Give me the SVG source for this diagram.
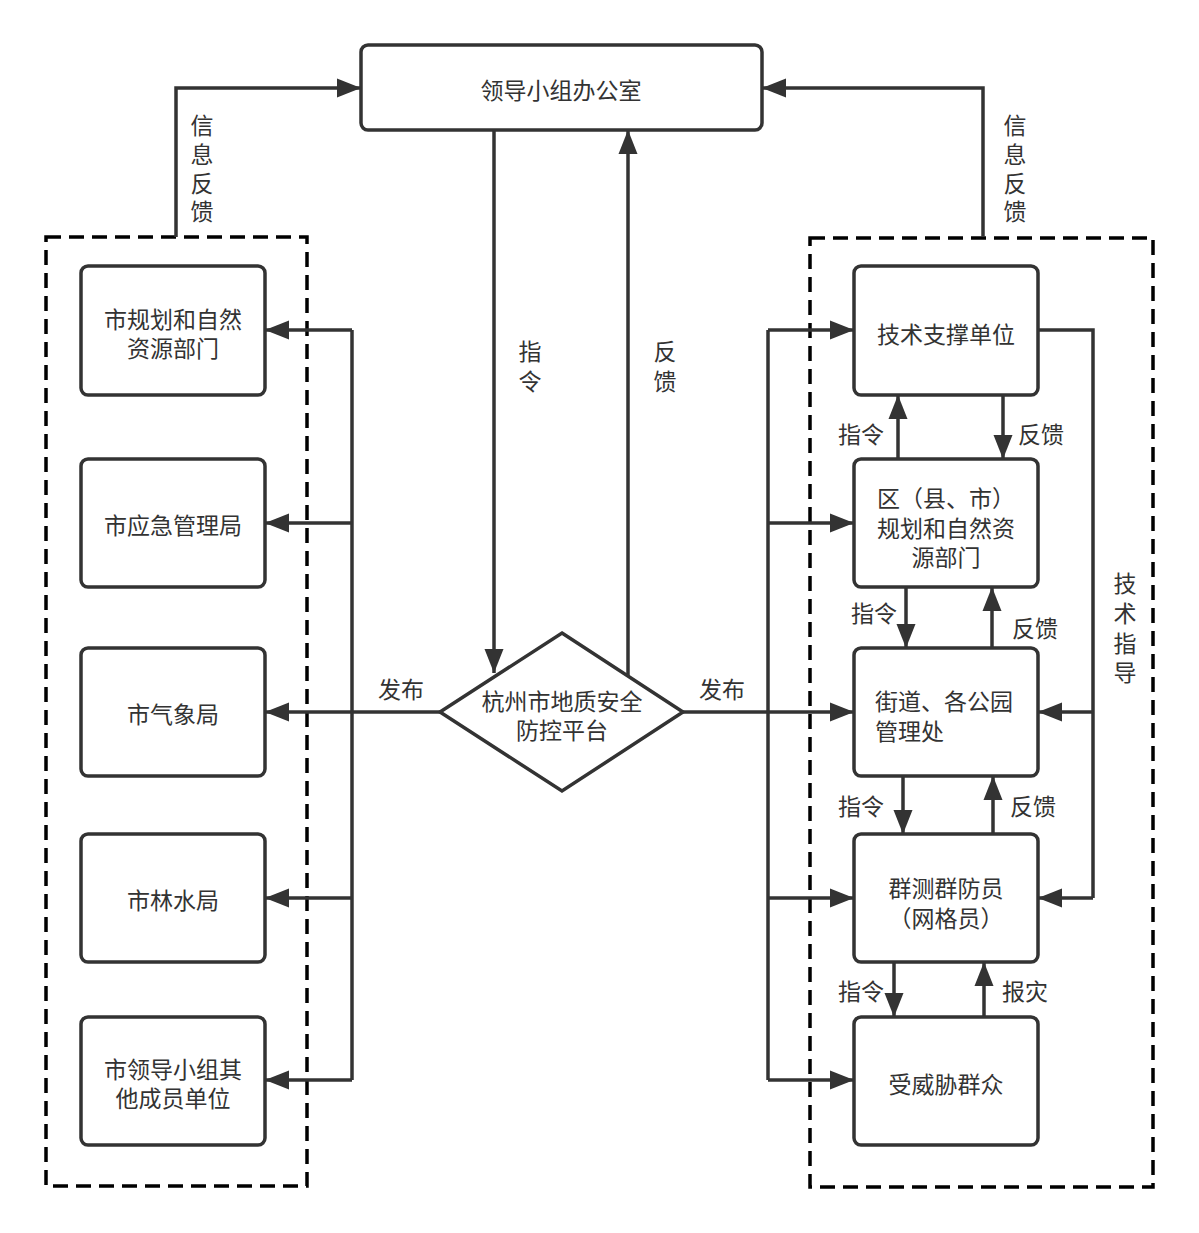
<svg xmlns="http://www.w3.org/2000/svg" width="1199" height="1233" viewBox="0 0 1199 1233">
<style>
.box{fill:#fff;stroke:#333;stroke-width:3.5}
.dash{fill:none;stroke:#000;stroke-width:3.5;stroke-dasharray:15 8}
.ln{fill:none;stroke:#333;stroke-width:3.5}
.ar{fill:none;stroke:#333;stroke-width:3.5;marker-end:url(#ah)}
text{font-family:"Noto Sans CJK SC","Noto Sans",sans-serif;font-size:23px;fill:#333;dominant-baseline:central}
.c{text-anchor:middle}
</style>
<defs>
<marker id="ah" markerUnits="userSpaceOnUse" markerWidth="26" markerHeight="20" refX="24" refY="10" orient="auto">
<path d="M0,0.5 L24,10 L0,19.5 Z" fill="#333"/>
</marker>
</defs>
<rect x="0" y="0" width="1199" height="1233" fill="#fff"/>
<rect class="dash" x="46" y="237" width="261" height="949"/>
<rect class="dash" x="810" y="238" width="343" height="949"/>
<g id="connectors">
<polyline class="ar" points="176,237 176,88 361,88"/>
<polyline class="ar" points="983,237 983,88 762,88"/>
<polyline class="ar" points="494,130 494,673"/>
<polyline class="ar" points="628,676 628,130"/>
<polyline class="ar" points="440,712 265,712"/>
<polyline class="ln" points="352,330 352,1080"/>
<polyline class="ar" points="352,330 265,330"/>
<polyline class="ar" points="352,523 265,523"/>
<polyline class="ar" points="352,898 265,898"/>
<polyline class="ar" points="352,1080 265,1080"/>
<polyline class="ar" points="683,712 854,712"/>
<polyline class="ln" points="768,330 768,1080"/>
<polyline class="ar" points="768,330 854,330"/>
<polyline class="ar" points="768,523 854,523"/>
<polyline class="ar" points="768,898 854,898"/>
<polyline class="ar" points="768,1080 854,1080"/>
<polyline class="ln" points="1038,330 1093,330 1093,898"/>
<polyline class="ar" points="1093,712 1038,712"/>
<polyline class="ar" points="1093,898 1038,898"/>
<polyline class="ar" points="898,459 898,395"/>
<polyline class="ar" points="1003,395 1003,459"/>
<polyline class="ar" points="906,587 906,648"/>
<polyline class="ar" points="992,648 992,587"/>
<polyline class="ar" points="903,776 903,834"/>
<polyline class="ar" points="993,834 993,776"/>
<polyline class="ar" points="894,962 894,1017"/>
<polyline class="ar" points="984,1017 984,962"/>
</g>
<g id="labels">
<text class="c" x="202" y="124"><tspan x="202">信</tspan><tspan x="202" dy="29">息</tspan><tspan x="202" dy="29">反</tspan><tspan x="202" dy="28">馈</tspan></text>
<text class="c" x="1015" y="124"><tspan x="1015">信</tspan><tspan x="1015" dy="29">息</tspan><tspan x="1015" dy="29">反</tspan><tspan x="1015" dy="28">馈</tspan></text>
<text class="c" x="530" y="350"><tspan x="530">指</tspan><tspan x="530" dy="30">令</tspan></text>
<text class="c" x="665" y="350"><tspan x="665">反</tspan><tspan x="665" dy="30">馈</tspan></text>
<text class="c" x="401" y="688">发布</text>
<text class="c" x="722" y="688">发布</text>
<text class="c" x="1125" y="582"><tspan x="1125">技</tspan><tspan x="1125" dy="30">术</tspan><tspan x="1125" dy="30">指</tspan><tspan x="1125" dy="29">导</tspan></text>
<text class="c" x="861" y="433">指令</text>
<text class="c" x="1041" y="433">反馈</text>
<text class="c" x="874" y="612">指令</text>
<text class="c" x="1035" y="627">反馈</text>
<text class="c" x="861" y="805">指令</text>
<text class="c" x="1033" y="805">反馈</text>
<text class="c" x="861" y="990">指令</text>
<text class="c" x="1025" y="990">报灾</text>
</g>
<g id="n-top"><rect class="box" x="361" y="45" width="401" height="85" rx="7"/><text class="c" x="561" y="89">领导小组办公室</text></g>
<g id="n-platform"><polygon class="box" points="562,633 683,712 562,791 440,712"/><text class="c" x="562" y="700"><tspan x="562">杭州市地质安全</tspan><tspan x="562" dy="29">防控平台</tspan></text></g>
<g id="n-l1"><rect class="box" x="81" y="266" width="184" height="129" rx="7"/><text class="c" x="173" y="318"><tspan x="173">市规划和自然</tspan><tspan x="173" dy="29">资源部门</tspan></text></g>
<g id="n-l2"><rect class="box" x="81" y="459" width="184" height="128" rx="7"/><text class="c" x="173" y="524">市应急管理局</text></g>
<g id="n-l3"><rect class="box" x="81" y="648" width="184" height="128" rx="7"/><text class="c" x="173" y="713">市气象局</text></g>
<g id="n-l4"><rect class="box" x="81" y="834" width="184" height="128" rx="7"/><text class="c" x="173" y="899">市林水局</text></g>
<g id="n-l5"><rect class="box" x="81" y="1017" width="184" height="128" rx="7"/><text class="c" x="173" y="1068"><tspan x="173">市领导小组其</tspan><tspan x="173" dy="29">他成员单位</tspan></text></g>
<g id="n-r1"><rect class="box" x="854" y="266" width="184" height="129" rx="7"/><text class="c" x="946" y="333">技术支撑单位</text></g>
<g id="n-r2"><rect class="box" x="854" y="459" width="184" height="128" rx="7"/><text class="c" x="946" y="497"><tspan x="946">区（县、市）</tspan><tspan x="946" dy="30">规划和自然资</tspan><tspan x="946" dy="29">源部门</tspan></text></g>
<g id="n-r3"><rect class="box" x="854" y="648" width="184" height="128" rx="7"/><text x="875" y="700"><tspan x="875">街道、各公园</tspan><tspan x="875" dy="30">管理处</tspan></text></g>
<g id="n-r4"><rect class="box" x="854" y="834" width="184" height="128" rx="7"/><text class="c" x="946" y="887"><tspan x="946">群测群防员</tspan><tspan x="946" dy="30">（网格员）</tspan></text></g>
<g id="n-r5"><rect class="box" x="854" y="1017" width="184" height="128" rx="7"/><text class="c" x="946" y="1083">受威胁群众</text></g>
</svg>
